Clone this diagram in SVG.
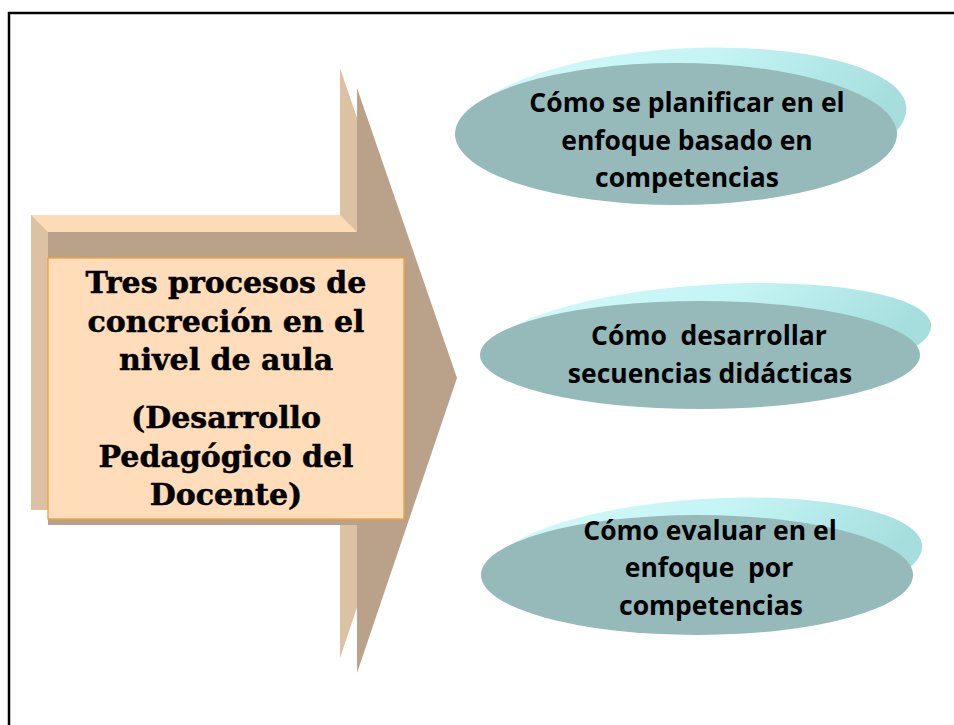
<svg xmlns="http://www.w3.org/2000/svg" width="954" height="725" viewBox="0 0 954 725">
<defs>
<style>
.frame{fill:none;stroke:#000;stroke-width:2.5}
.back{fill:#DCC2A2}
.topbevel{fill:#FBDCB6}
.front{fill:#BAA28A}
.box{fill:#FFDDBA;stroke:#F2A033;stroke-width:1.3}
.ttl{font-family:"DejaVu Serif","Liberation Serif",serif;font-weight:bold;font-size:30px;fill:#000;stroke:#000;stroke-width:0.5;text-anchor:middle}
.ell{fill:#96BABA}
.rim{fill:url(#rimg)}
.lbl{font-family:"Open Sans","Liberation Sans",sans-serif;font-weight:bold;font-size:26.5px;fill:#000;text-anchor:middle}
</style>
<linearGradient id="rimg" x1="0" y1="0" x2="1" y2="0.3">
<stop offset="0" stop-color="#D4FAFA"/>
<stop offset="0.55" stop-color="#C4F4F4"/>
<stop offset="1" stop-color="#A6DEDE"/>
</linearGradient>
</defs>
<rect width="954" height="725" fill="#fff"/>
<rect class="frame" x="9" y="13" width="960" height="740"/>
<g id="arrow">
<polygon class="back" points="31,215 340,215 340,68 440,361 340,658 340,510 31,510"/>
<polygon class="topbevel" points="31,215 340,215 357,232 48,232"/>
<polygon class="front" points="48,232 357,232 357,88 457,378 357,673 357,525 48,525"/>
<rect class="box" x="48" y="258" width="356" height="261"/>
<text class="ttl" x="226" y="293">Tres procesos de</text>
<text class="ttl" x="226" y="332">concreción en el</text>
<text class="ttl" x="226" y="370">nivel de aula</text>
<text class="ttl" x="226" y="428">(Desarrollo</text>
<text class="ttl" x="226" y="467">Pedagógico del</text>
<text class="ttl" x="226" y="505">Docente)</text>
</g>
<g id="connectors"></g>
<g id="node1">
<ellipse class="rim" cx="676" cy="134" rx="221" ry="71" transform="translate(10,-3) rotate(-3 455 134)"/>
<ellipse class="ell" cx="676" cy="134" rx="221" ry="71"/>
<text class="lbl" x="687" y="112">Cómo se planificar en el</text>
<text class="lbl" x="687" y="150">enfoque basado en</text>
<text class="lbl" x="687" y="187">competencias</text>
</g>
<g id="node2">
<ellipse class="rim" cx="700" cy="355" rx="220" ry="54" transform="translate(12,-3) rotate(-3.5 480 355)"/>
<ellipse class="ell" cx="700" cy="355" rx="220" ry="54"/>
<text class="lbl" x="709" y="345" xml:space="preserve">Cómo  desarrollar</text>
<text class="lbl" x="710" y="383">secuencias didácticas</text>
</g>
<g id="node3">
<ellipse class="rim" cx="697" cy="575" rx="216" ry="60" transform="translate(10,-3) rotate(-3.5 481 575)"/>
<ellipse class="ell" cx="697" cy="575" rx="216" ry="60"/>
<text class="lbl" x="710" y="540">Cómo evaluar en el</text>
<text class="lbl" x="709" y="577" xml:space="preserve">enfoque  por</text>
<text class="lbl" x="711" y="615">competencias</text>
</g>
</svg>
